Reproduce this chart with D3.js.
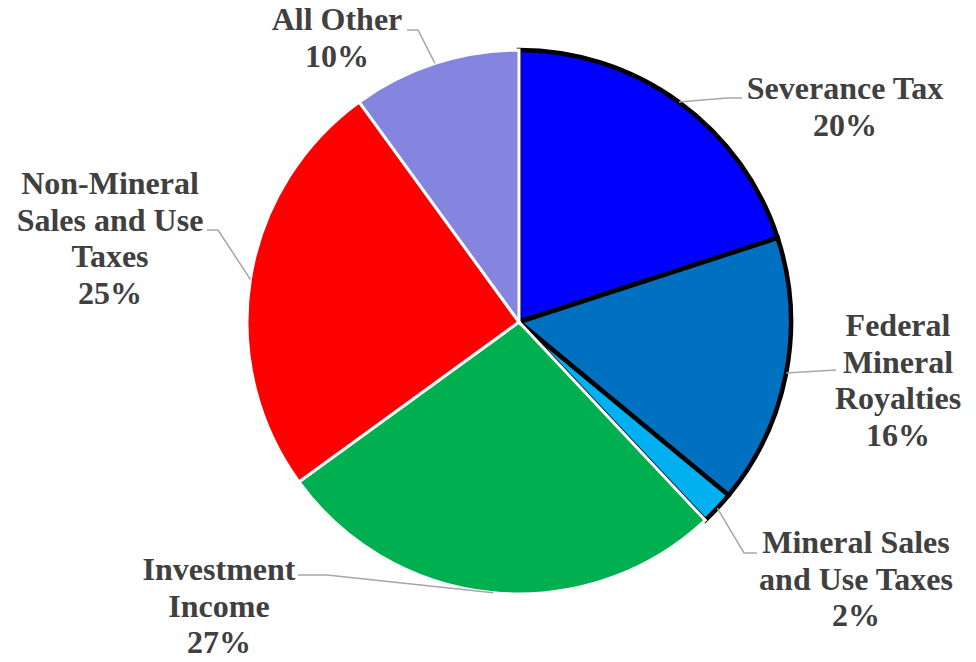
<!DOCTYPE html>
<html lang="en">
<head>
    <meta charset="UTF-8">
    <title>Revenue sources pie</title>
    <script src="https://d3js.org/d3.v7.min.js"></script>
    <style>
        body { margin: 0; background: #fff; }
        svg { display: block; }
    </style>
</head>
<body>
<div id="chart"></div>
<script>
    // data, clockwise from 12 o'clock
    var categories = ['Severance Tax', 'Federal Mineral Royalties', 'Mineral Sales and Use Taxes',
                      'Investment Income', 'Non-Mineral Sales and Use Taxes', 'All Other'];
    var values = [20, 16, 2, 27, 25, 10];
    var labelLines = [
        ['Severance Tax'],
        ['Federal', 'Mineral', 'Royalties'],
        ['Mineral Sales', 'and Use Taxes'],
        ['Investment', 'Income'],
        ['Non-Mineral', 'Sales and Use', 'Taxes'],
        ['All Other']
    ];

    // styling
    var colors = ['#0000FF', '#0070C0', '#00B0F0', '#00B050', '#FF0000', '#8585DF'];
    var mineral = [true, true, true, false, false, false];

    // label placement: text centre x, first baseline y, leader points (after the arc point)
    var labelPos = [
        { x: 845, y: 99,  leader: [[727, 98], [742, 98]] },
        { x: 898, y: 336, leader: [[836, 370]] },
        { x: 856, y: 553, leader: [[744, 553], [757, 553]] },
        { x: 219, y: 580, leader: [[327, 575], [298, 575]] },
        { x: 110, y: 194, leader: [[218, 230], [207, 230]] },
        { x: 337, y: 30,  leader: [[418, 30], [407, 30]] }
    ];

    var width = 976, height = 662;
    var cx = 519, cy = 322, radius = 272;
    var lineH = 36.5;

    var svg = d3.select('#chart').append('svg')
        .attr('width', width)
        .attr('height', height);

    var pie = d3.pie().sort(null).value(function(d) { return d; });
    var arcs = pie(values);

    var arc = d3.arc().innerRadius(0).outerRadius(radius);

    var g = svg.append('g').attr('transform', 'translate(' + cx + ',' + cy + ')');

    // mineral slices get a heavy black outline, the rest a white one
    g.selectAll('path.slice')
        .data(arcs)
        .enter().append('path')
        .attr('class', 'slice')
        .attr('d', arc)
        .attr('fill', function(d, i) { return colors[i]; })
        .attr('stroke', function(d, i) { return mineral[i] ? '#000' : '#fff'; })
        .attr('stroke-width', function(d, i) { return mineral[i] ? 4.5 : 3; })
        .attr('stroke-linejoin', 'miter');

    // leader lines from the slice edge to the label
    arcs.forEach(function(a, i) {
        var mid = (a.startAngle + a.endAngle) / 2;
        var start = [cx + radius * Math.sin(mid), cy - radius * Math.cos(mid)];
        var pts = [start].concat(labelPos[i].leader);
        svg.append('path')
            .attr('d', d3.line()(pts))
            .attr('fill', 'none')
            .attr('stroke', '#A6A6A6')
            .attr('stroke-width', 1.5);
    });

    // labels
    arcs.forEach(function(a, i) {
        var lines = labelLines[i].concat([values[i] + '%']);
        var t = svg.append('text')
            .attr('text-anchor', 'middle')
            .style('font-family', '"Liberation Serif", "Times New Roman", serif')
            .style('font-weight', 'bold')
            .style('font-size', '32px')
            .style('fill', '#404040');
        lines.forEach(function(s, k) {
            t.append('tspan')
                .attr('x', labelPos[i].x)
                .attr('y', labelPos[i].y + k * lineH)
                .text(s);
        });
    });
</script>
</body>
</html>
